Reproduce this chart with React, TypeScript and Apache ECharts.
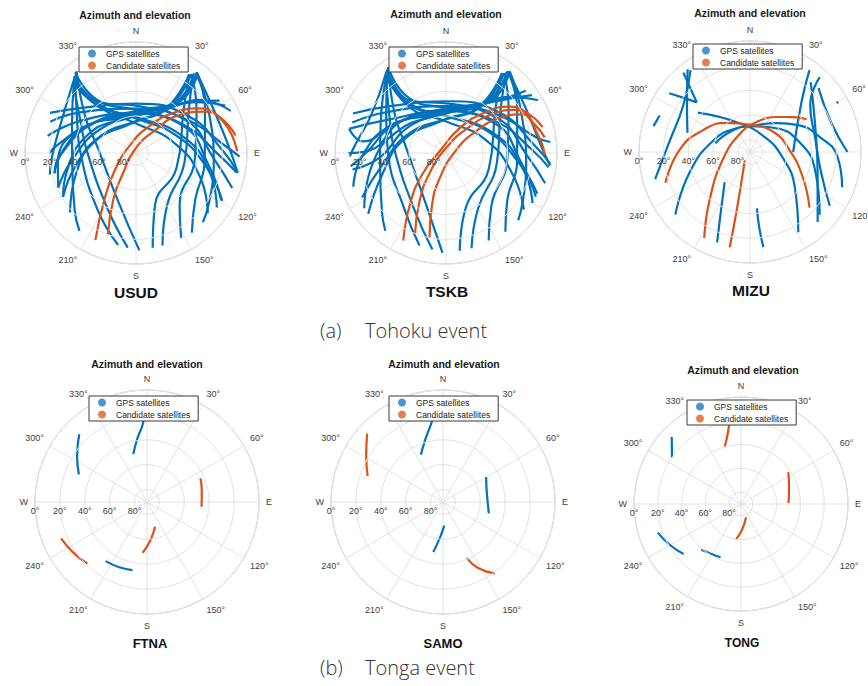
import React, { useEffect, useRef } from 'react';
import * as echarts from 'echarts';

// Each track: list of [azimuth (deg, clockwise from N), elevation (deg)]
type Track = number[][];

const USUD_GPS: Track[] = [
  [[320, 12], [323, 41], [0, 62], [65, 55], [100, 33], [119, 10]],
  [[323, 8], [324, 37], [0, 55], [60, 45], [92, 22], [101, 7]],
  [[318, 14], [322, 44], [0, 66], [75, 58], [110, 35], [130, 14]],
  [[321, 10], [325, 40], [5, 52], [58, 40], [85, 18], [92, 6]],
  [[319, 13], [322, 42], [355, 60], [70, 50], [105, 28], [124, 11]],
  [[37, 8], [39, 40], [0, 60], [303, 55], [264, 38], [246, 21]],
  [[35, 12], [36, 44], [0, 64], [295, 58], [258, 40], [239, 21]],
  [[38, 9], [40, 36], [5, 55], [305, 48], [270, 30], [256, 22]],
  [[36, 10], [38, 38], [355, 58], [300, 45], [275, 25], [270, 20]],
  [[34, 13], [34, 46], [350, 66], [285, 55], [250, 38], [228, 18]],
  [[290, 16], [306, 34], [0, 54], [56, 42], [95, 26], [110, 7]],
  [[295, 13], [310, 33], [0, 50], [55, 38], [88, 20], [101, 6]],
  [[281, 17], [300, 38], [355, 58], [60, 46], [100, 30], [119, 11]],
  [[66, 6], [50, 23], [37, 44], [355, 58], [299, 45], [268, 28], [256, 22]],
  [[62, 8], [50, 26], [30, 48], [350, 60], [295, 42], [262, 26], [246, 21]],
  [[58, 10], [48, 28], [25, 50], [340, 60], [290, 48], [255, 32], [239, 21]],
  [[320, 12], [292, 34], [264, 38], [227, 22], [216, 12]],
  [[322, 10], [298, 36], [270, 45], [215, 35], [191, 14]],
  [[318, 14], [300, 38], [273, 50], [208, 40], [185, 13]],
  [[324, 8], [305, 40], [280, 58], [200, 48], [178, 11]],
  [[321, 11], [295, 24], [268, 22], [256, 18]],
  [[37, 8], [58, 24], [96, 34], [128, 29], [145, 11]],
  [[35, 12], [55, 30], [95, 42], [140, 35], [152, 12]],
  [[38, 10], [60, 22], [100, 26], [125, 18], [136, 12]],
  [[36, 11], [50, 34], [100, 50], [150, 40], [164, 12]],
  [[34, 13], [48, 38], [110, 55], [160, 45], [170, 12]],
  [[38, 9], [62, 18], [85, 15], [101, 6]],
];
const USUD_CAND: Track[] = [
  [[205, 12], [214, 44], [231, 68], [323, 82], [27, 65], [44, 44], [55, 27], [67, 16], [80, 8]],
  [[199, 20], [206, 48], [212, 69], [342, 87], [40, 66], [49, 43], [59, 25], [72, 14], [89, 8]],
];

const TSKB_GPS: Track[] = [
  [[324, 9], [324, 40], [0, 60], [62, 52], [98, 30], [114, 9]],
  [[326, 6], [326, 36], [2, 54], [58, 42], [88, 20], [98, 6]],
  [[322, 11], [322, 44], [358, 64], [72, 56], [108, 33], [126, 12]],
  [[325, 7], [326, 39], [8, 50], [55, 37], [80, 16], [84, 5]],
  [[323, 10], [323, 41], [352, 58], [68, 48], [102, 26], [120, 9]],
  [[37, 7], [39, 38], [0, 58], [305, 53], [266, 36], [260, 13]],
  [[36, 10], [37, 43], [2, 62], [297, 56], [260, 38], [242, 13]],
  [[38, 6], [40, 35], [6, 53], [307, 46], [272, 28], [270, 11]],
  [[37, 8], [38, 37], [356, 56], [302, 43], [278, 22], [284, 9]],
  [[35, 11], [35, 45], [350, 64], [287, 54], [252, 36], [232, 10]],
  [[288, 10], [305, 32], [0, 52], [55, 40], [92, 24], [107, 6]],
  [[293, 8], [309, 30], [2, 48], [52, 36], [85, 18], [96, 5]],
  [[284, 9], [300, 36], [355, 56], [58, 44], [98, 28], [116, 9]],
  [[60, 4], [48, 22], [36, 42], [355, 56], [300, 43], [270, 25], [262, 12]],
  [[56, 6], [48, 25], [30, 46], [350, 58], [296, 40], [268, 22], [250, 10]],
  [[52, 8], [46, 27], [25, 48], [340, 58], [292, 46], [262, 30], [236, 10]],
  [[324, 9], [294, 32], [262, 36], [228, 20], [218, 10]],
  [[325, 7], [300, 34], [270, 43], [216, 33], [196, 12]],
  [[322, 11], [302, 36], [274, 48], [210, 38], [188, 11]],
  [[326, 6], [307, 38], [282, 56], [202, 46], [182, 9]],
  [[324, 8], [297, 22], [275, 16], [268, 12]],
  [[37, 7], [58, 22], [96, 32], [128, 27], [143, 10]],
  [[36, 10], [55, 28], [95, 40], [140, 33], [154, 11]],
  [[38, 6], [60, 20], [100, 24], [123, 16], [133, 10]],
  [[37, 8], [50, 32], [100, 48], [150, 38], [165, 10]],
  [[35, 11], [48, 36], [110, 53], [160, 43], [172, 10]],
  [[38, 7], [62, 16], [85, 13], [97, 5]],
];
const TSKB_CAND: Track[] = [
  [[206, 11], [215, 39], [228, 64], [297, 85], [29, 67], [44, 44], [54, 26], [66, 15], [75, 9]],
  [[201, 20], [209, 46], [220, 70], [0, 86], [41, 63], [50, 41], [58, 24], [73, 14], [81, 9]],
  [[191, 20], [195, 46], [194, 69], [84, 83], [54, 61], [57, 38], [63, 21], [79, 14], [91, 10]],
];

const MIZU_GPS: Track[] = [
  [[254, 10], [277, 24], [305, 24], [324, 8]],
  [[323, 6], [307, 26], [287, 37]],
  [[320, 6], [317, 19], [313, 31]],
  [[306, 9], [309, 20], [313, 31]],
  [[285, 9], [292, 11]],
  [[230, 11], [251, 38], [288, 59], [332, 68], [0, 69], [43, 58], [60, 46], [78, 32], [93, 19], [111, 10]],
  [[307, 37], [337, 64], [45, 73], [100, 63], [128, 44], [149, 14]],
  [[284, 61], [315, 67], [0, 69], [46, 62], [79, 49], [106, 35], [132, 14]],
  [[220, 58], [206, 36], [200, 12]],
  [[173, 44], [173, 28], [172, 12]],
  [[36, 8], [46, 32], [90, 55]],
  [[43, 7], [52, 28], [78, 36], [106, 30], [124, 12]],
  [[47, 14], [70, 20], [90, 11]],
  [[41, 15], [65, 32], [106, 33], [136, 11]],
  [[60, 9], [61, 8]],
];
const MIZU_CAND: Track[] = [
  [[250, 17], [272, 33], [295, 48], [322, 60], [0, 68], [49, 65], [87, 58], [115, 43], [133, 24]],
  [[208, 11], [220, 39], [254, 67], [332, 73], [13, 65], [38, 54], [51, 45], [60, 37]],
  [[192, 11], [193, 44], [212, 82]],
];

const FTNA_GPS: Track[] = [
  [[315, 13], [303, 23], [292, 31]],
  [[358, 20], [357, 27], [351, 39], [344, 50]],
  [[215, 32], [203, 33], [192, 34]],
];
const FTNA_CAND: Track[] = [
  [[66, 43], [78, 45], [95, 46]],
  [[247, 15], [236, 18], [224, 21]],
  [[162, 69], [175, 59], [185, 49]],
];

const SAMO_GPS: Track[] = [
  [[354, 18], [352, 25], [344, 38], [335, 48]],
  [[60, 50], [78, 54], [104, 52]],
  [[177, 71], [185, 61], [191, 49]],
];
const SAMO_CAND: Track[] = [
  [[312, 8], [301, 18], [289, 26]],
  [[157, 41], [152, 30], [144, 19]],
];

const TONG_GPS: Track[] = [
  [[314, 9], [304, 20]],
  [[251, 16], [240, 21], [229, 26]],
  [[221, 39], [212, 41], [201, 42]],
];
const TONG_CAND: Track[] = [
  [[354, 14], [352, 21], [348, 33], [344, 40]],
  [[56, 42], [70, 47], [89, 50]],
  [[159, 78], [178, 68], [188, 60]],
];

const STATIONS = ['USUD', 'TSKB', 'MIZU', 'FTNA', 'SAMO', 'TONG'];
const GPS_TRACKS = [USUD_GPS, TSKB_GPS, MIZU_GPS, FTNA_GPS, SAMO_GPS, TONG_GPS];
const CAND_TRACKS = [USUD_CAND, TSKB_CAND, MIZU_CAND, FTNA_CAND, SAMO_CAND, TONG_CAND];
const LEGEND_NAMES = ['GPS satellites', 'Candidate satellites'];
const ANGLE_NAMES: Record<number, string> = { 0: 'N', 90: 'E', 180: 'S', 270: 'W' };
const CAPTIONS = [
  ['(a)', 'Tohoku event'],
  ['(b)', 'Tonga event'],
];

// layout (pixels)
const LAYOUT = [
  { c: [136, 153], r: 111, title: [135, 15], label: [136, 292], lab: 15.5, legend: [79, 47] },
  { c: [446, 153], r: 111, title: [446, 14], label: [447, 291], lab: 15.5, legend: [389, 47] },
  { c: [750, 152], r: 111, title: [750, 13], label: [751, 290], lab: 15.5, legend: [693, 44] },
  { c: [147, 502], r: 112, title: [147, 364], label: [150, 643], lab: 13, legend: [89, 396] },
  { c: [443, 502], r: 112, title: [444, 364], label: [443, 643], lab: 13, legend: [389, 396] },
  { c: [741, 504], r: 107, title: [743, 370], label: [742, 643], lab: 12, legend: [687, 400] },
];

const BLUE = '#0072BD';
const ORANGE = '#D95319';
const FONT = '"Liberation Sans", Arial, Helvetica, sans-serif';

function toPolar(t: Track) {
  return t.map(([az, el]) => [el, az < 270 ? az + 360 : az]);
}

function buildOption() {
  const series: any[] = [];
  GPS_TRACKS.forEach((tracks, i) => {
    tracks.forEach((t) => {
      series.push({
        type: 'line', name: LEGEND_NAMES[0], coordinateSystem: 'polar', polarIndex: i,
        data: toPolar(t), showSymbol: false, symbol: 'none', smooth: 0.5, silent: true,
        lineStyle: { width: 2.2, color: BLUE }, itemStyle: { color: BLUE }, z: 2,
      });
    });
  });
  CAND_TRACKS.forEach((tracks, i) => {
    tracks.forEach((t) => {
      series.push({
        type: 'line', name: LEGEND_NAMES[1], coordinateSystem: 'polar', polarIndex: i,
        data: toPolar(t), showSymbol: false, symbol: 'none', smooth: 0.5, silent: true,
        lineStyle: { width: 2.2, color: ORANGE }, itemStyle: { color: ORANGE }, z: 3,
      });
    });
  });

  const graphic: any[] = [];
  LAYOUT.forEach((L, i) => {
    graphic.push({
      type: 'text', x: L.title[0], y: L.title[1], z: 10,
      style: {
        text: 'Azimuth and elevation', fill: '#1a1a1a', fontSize: 10.5, fontWeight: 'bold', fontFamily: FONT,
        align: 'center', verticalAlign: 'middle', textAlign: 'center', textVerticalAlign: 'middle',
      },
    });
    graphic.push({
      type: 'text', x: L.label[0], y: L.label[1], z: 10,
      style: {
        text: STATIONS[i], fill: '#111', fontSize: L.lab, fontWeight: 'bold', fontFamily: FONT,
        align: 'center', verticalAlign: 'middle', textAlign: 'center', textVerticalAlign: 'middle',
      },
    });
  });
  const capY = [330, 667];
  CAPTIONS.forEach((c, k) => {
    graphic.push({
      type: 'text', x: 320, y: capY[k],
      style: { text: c[0], fill: '#333', fontSize: 20, fontWeight: 300, fontFamily: '"Open Sans", "Noto Sans", sans-serif', align: 'left', verticalAlign: 'middle', textAlign: 'left', textVerticalAlign: 'middle' },
    });
    graphic.push({
      type: 'text', x: 365, y: capY[k],
      style: { text: c[1], fill: '#333', fontSize: 20, fontWeight: 300, fontFamily: '"Open Sans", "Noto Sans", sans-serif', align: 'left', verticalAlign: 'middle', textAlign: 'left', textVerticalAlign: 'middle' },
    });
  });

  return {
    animation: false,
    backgroundColor: '#ffffff',
    textStyle: { fontFamily: FONT },
    polar: LAYOUT.map((L) => ({ center: L.c, radius: L.r })),
    angleAxis: LAYOUT.map((_, i) => ({
      polarIndex: i, type: 'value', min: 270, max: 630, interval: 30, startAngle: 180, clockwise: true,
      axisLine: { show: true, lineStyle: { color: '#c4c4c4', width: 1 } },
      axisTick: { show: false },
      splitLine: { show: true, lineStyle: { color: '#e2e2e2', width: 1 } },
      axisLabel: {
        fontSize: 9, color: '#404040', margin: 7, fontFamily: FONT,
        formatter: (v: number) => {
          if (v >= 630) return '';
          const a = ((v % 360) + 360) % 360;
          return ANGLE_NAMES[a] !== undefined ? ANGLE_NAMES[a] : a + '°';
        },
      },
    })),
    radiusAxis: LAYOUT.map((_, i) => ({
      polarIndex: i, type: 'value', min: 0, max: 90, interval: 20, inverse: true,
      axisLine: { show: false }, axisTick: { show: false },
      splitLine: { show: true, lineStyle: { color: '#e2e2e2', width: 1 } },
      axisLabel: {
        fontSize: 9, color: '#404040', margin: 4, fontFamily: FONT,
        formatter: (v: number) => (v >= 90 ? '' : v + '°'),
      },
      z: 5,
    })),
    legend: LAYOUT.map((L) => ({
      left: L.legend[0], top: L.legend[1], orient: 'vertical',
      backgroundColor: '#ffffff', borderColor: '#3a3a3a', borderWidth: 1, borderRadius: 0,
      padding: [2, 8, 2, 9], itemGap: 3, itemWidth: 18, itemHeight: 8,
      textStyle: { fontSize: 8.5, color: '#222', fontFamily: FONT },
      selectedMode: false, z: 8,
      data: [
        { name: LEGEND_NAMES[0], icon: 'circle', itemStyle: { color: '#4a94d0' } },
        { name: LEGEND_NAMES[1], icon: 'circle', itemStyle: { color: '#e47f52' } },
      ],
    })),
    graphic,
    series,
  };
}

export default function App() {
  const ref = useRef<HTMLDivElement>(null);
  useEffect(() => {
    document.body.style.margin = '0';
    if (!ref.current) return;
    const chart = echarts.init(ref.current, undefined, { renderer: 'svg' });
    chart.setOption(buildOption() as any);
    return () => chart.dispose();
  }, []);
  return <div ref={ref} style={{ width: 868, height: 686 }} />;
}
